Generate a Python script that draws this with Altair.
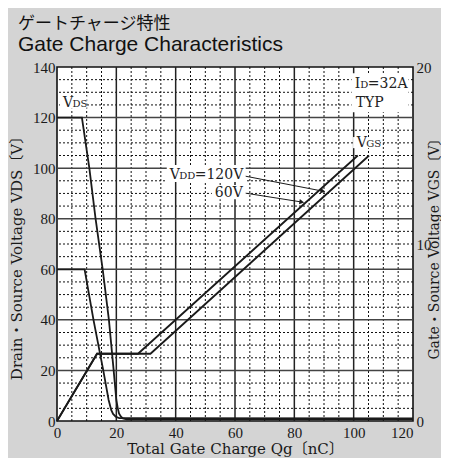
import altair as alt
import pandas as pd

# ---------------- data ----------------
x_ticks = [0, 20, 40, 60, 80, 100, 120]
y_left_ticks = [0, 20, 40, 60, 80, 100, 120, 140]
y_right_ticks = [0, 10, 20]

minor_x = [v for v in range(0, 121, 5) if v % 20]
major_x = [20, 40, 60, 80, 100]
minor_y = [v for v in range(0, 141, 5) if v % 20]
major_y = [20, 40, 60, 80, 100, 120]

# Drain-source voltage curves (VDS, left axis)
vds120_q = [0, 8.4, 10.9, 13.0, 15.4, 17.5, 19.1, 20.0, 20.5, 20.9, 21.5, 22.2, 23.5, 120]
vds120_v = [120, 120, 100, 80, 60, 40, 20, 8.3, 5.0, 3.0, 1.8, 1.0, 0.7, 0.7]
vds60_q = [0, 9.3, 12.3, 15.6, 17.4, 18.3, 18.9, 19.8, 21.0, 120]
vds60_v = [60, 60, 40, 20, 8.3, 4.3, 2.8, 1.7, 1.1, 1.0]

# Gate-source voltage curves (VGS, right axis)
vgs60_q = [0, 13.5, 27.3, 101.4]
vgs60_v = [0, 3.8, 3.8, 15.0]
vgs120_q = [0, 13.5, 31.5, 105.2]
vgs120_v = [0, 3.8, 3.8, 15.0]

# White label boxes (left-axis units)
box_q1 = [1.0, 99.8, 99.3, 37.0, 52.2]
box_q2 = [10.0, 108.8, 118.5, 63.6, 63.6]
box_v1 = [123.5, 107.9, 122.1, 94.5, 87.7]
box_v2 = [128.5, 112.3, 137.5, 101.2, 93.3]

# Label pieces: (q, v, text, font size, pixel offset)
label_q = [2.0, 2.0, 101.0, 101.0, 100.4, 100.4, 100.4, 100.7, 38.0, 38.0, 38.0, 53.2]
label_v = [124.1, 124.1, 108.3, 108.3, 131.6, 131.6, 131.6, 124.1, 95.7, 95.7, 95.7, 88.5]
label_t = ["V", "DS", "V", "GS", "I", "D", "=32A", "TYP", "V", "DD", "=120V", "60V"]
label_s = [14, 10, 14, 10, 14, 10, 14, 14, 14, 10, 14, 14]
label_dx = [0, 9.6, 0, 9.6, 0, 5.3, 13.0, 0, 0, 9.6, 25.0, 0]

# Leader arrows for VDD labels
arrow_q1 = [63.6, 63.6]
arrow_v1 = [96.8, 90.1]
arrow_q2 = [89.6, 82.5]
arrow_v2 = [90.9, 86.6]
arrow_angle = [11, 9]

# ---------------- build ----------------
SERIF = "DejaVu Serif, Noto Sans CJK JP"
INK = "#1a1a1a"
W, H = 356, 354

xscale = alt.Scale(domain=[0, 120], nice=False, zero=False)
yscale = alt.Scale(domain=[0, 140], nice=False, zero=False)

x_axis = alt.Axis(values=x_ticks, grid=False, ticks=False, domain=False,
                  labelFont="Liberation Serif", labelFontSize=15, labelColor=INK,
                  labelPadding=4, labelFlush=False,
                  labelAlign=alt.expr("datum.value == 120 ? 'right' : 'center'"),
                  title="Total Gate Charge  Qg〔nC〕", titleFont=SERIF,
                  titleFontSize=15, titleFontWeight="normal", titleColor=INK,
                  titlePadding=1)
y_axis = alt.Axis(values=y_left_ticks, grid=False, ticks=False, domain=False,
                  labelFont="Liberation Serif", labelFontSize=15, labelColor=INK,
                  labelPadding=2, labelFlush=False,
                  title="Drain・Source Voltage  VDS〔V〕", titleFont=SERIF,
                  titleFontSize=15, titleFontWeight="normal", titleColor=INK,
                  titleAngle=270, titleX=-41, titleY=187, titleAlign="center",
                  titleBaseline="middle")


def X(f):
    return alt.X(f, type="quantitative", scale=xscale, axis=x_axis)


def Y(f):
    return alt.Y(f, type="quantitative", scale=yscale, axis=y_axis)


grid_minor_x = alt.Chart(pd.DataFrame({"q": minor_x})).mark_rule(
    color="#111", strokeWidth=1, strokeDash=[2, 2]).encode(x=X("q"))
grid_major_x = alt.Chart(pd.DataFrame({"q": major_x})).mark_rule(
    color="#222", strokeWidth=1.5).encode(x=X("q"))
grid_minor_y = alt.Chart(pd.DataFrame({"v": minor_y})).mark_rule(
    color="#111", strokeWidth=1, strokeDash=[2, 2]).encode(y=Y("v"))
grid_major_y = alt.Chart(pd.DataFrame({"v": major_y})).mark_rule(
    color="#444", strokeWidth=1.5).encode(y=Y("v"))

boxes = alt.Chart(pd.DataFrame({"q": box_q1, "q2": box_q2, "v": box_v1, "v2": box_v2})).mark_rect(
    color="white").encode(x=X("q"), x2="q2", y=Y("v"), y2="v2")

vds_df = pd.concat([
    pd.DataFrame({"q": vds120_q, "v": vds120_v, "s": "120", "i": range(len(vds120_q))}),
    pd.DataFrame({"q": vds60_q, "v": vds60_v, "s": "60", "i": range(len(vds60_q))}),
])
vds_lines = alt.Chart(vds_df).mark_line(color=INK, strokeWidth=1.8).encode(
    x=X("q"), y=Y("v"), detail="s:N", order="i:Q")

arrows = alt.Chart(pd.DataFrame({"q": arrow_q1, "v": arrow_v1, "q2": arrow_q2, "v2": arrow_v2})).mark_rule(
    color=INK, strokeWidth=1).encode(x=X("q"), y=Y("v"), x2="q2", y2="v2")
heads = [
    alt.Chart(pd.DataFrame({"q": [arrow_q2[k]], "v": [arrow_v2[k]]})).mark_point(
        shape="triangle-right", filled=True, size=30, color=INK, opacity=1,
        angle=arrow_angle[k]).encode(x=X("q"), y=Y("v"))
    for k in range(len(arrow_q2))
]

texts = [
    alt.Chart(pd.DataFrame({"q": [label_q[k]], "v": [label_v[k]], "t": [label_t[k]]})).mark_text(
        font="DejaVu Serif", fontSize=label_s[k], align="left", baseline="alphabetic",
        dx=label_dx[k], color="#222").encode(x=X("q"), y=Y("v"), text="t:N")
    for k in range(len(label_t))
]

left = alt.layer(grid_minor_x, grid_minor_y, grid_major_x, grid_major_y, boxes,
                 vds_lines, arrows, *heads, *texts)

vgs_df = pd.concat([
    pd.DataFrame({"q": vgs120_q, "g": vgs120_v, "s": "120", "i": range(len(vgs120_q))}),
    pd.DataFrame({"q": vgs60_q, "g": vgs60_v, "s": "60", "i": range(len(vgs60_q))}),
])
right = alt.Chart(vgs_df).mark_line(color=INK, strokeWidth=1.8).encode(
    x=X("q"),
    y=alt.Y("g:Q", scale=alt.Scale(domain=[0, 20], nice=False, zero=False),
            axis=alt.Axis(orient="right", values=y_right_ticks, grid=False, ticks=False,
                          domain=False, labelFont="Liberation Serif", labelFontSize=15,
                          labelColor=INK, labelPadding=3, labelFlush=False,
                          title="Gate・Source Voltage  VGS〔V〕", titleFont=SERIF,
                          titleFontSize=14, titleFontWeight="normal", titleColor=INK,
                          titleAngle=270, titleX=21, titleY=178, titleAlign="center",
                          titleBaseline="middle")),
    detail="s:N", order="i:Q")

chart = alt.layer(left, right).resolve_scale(y="independent").properties(
    width=W, height=H,
    padding={"left": 49, "top": 59, "right": 28, "bottom": 37},
    autosize=alt.AutoSizeParams(type="none"),
    title=alt.Title("ゲートチャージ特性", subtitle="Gate Charge Characteristics",
                    anchor="start", frame="group", dx=-39, offset=4,
                    font="Noto Sans CJK JP", fontSize=17, fontWeight="normal", color="#111",
                    subtitleFont="Liberation Sans", subtitleFontSize=21,
                    subtitleColor="#111", subtitlePadding=1),
).configure(background="#d4d4d4").configure_view(
    fill="white", stroke="#111", strokeWidth=1.6)

chart.save("out.html", embed_options={"renderer": "svg", "actions": False})
